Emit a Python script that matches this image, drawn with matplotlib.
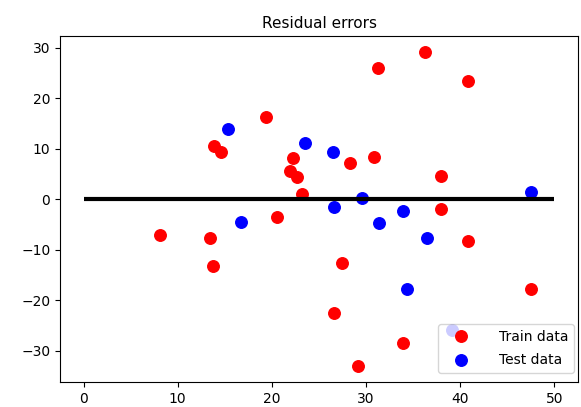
import numpy as np
import matplotlib
matplotlib.use('Agg')
import matplotlib.pyplot as plt

# Residuals
train_pred = [8.1, 13.4, 13.7, 13.8, 14.6, 19.4, 20.5, 22.2, 21.9, 22.7, 23.2,
              31.3, 36.3, 40.8, 28.3, 30.8, 37.9, 38.0, 40.8, 27.4, 47.5, 26.6,
              33.9, 29.1]
train_resid = [-7.0, -7.6, -13.3, 10.6, 9.3, 16.2, -3.5, 8.1, 5.6, 4.4, 1.0,
               26.0, 29.2, 23.5, 7.2, 8.4, 4.6, -2.0, -8.3, -12.7, -17.7, -22.5,
               -28.4, -33.1]
test_pred = [15.3, 23.5, 16.7, 26.5, 29.6, 26.6, 33.9, 47.5, 31.4, 36.5, 34.3, 39.1]
test_resid = [14.0, 11.2, -4.5, 9.3, 0.3, -1.5, -2.3, 1.5, -4.8, -7.6, -17.7, -25.9]

fig = plt.figure(figsize=(5.81, 4.07), dpi=100)
ax = fig.add_axes([0.1033, 0.0614, 0.8916, 0.850])

ax.plot(train_pred, train_resid, 'o', color='#ff0000', markersize=8.3, label='Train data')
ax.plot(test_pred, test_resid, 'o', color='#0000ff', markersize=8.3, label='Test data')
ax.hlines(y=0, xmin=0, xmax=50, color='black', linewidth=3)

ax.set_xticks([0, 10, 20, 30, 40, 50])
ax.set_yticks([-30, -20, -10, 0, 10, 20, 30])
ax.tick_params(labelsize=10)
ax.set_title('Residual errors', fontsize=11)
ax.legend(loc='lower right', bbox_to_anchor=(0.992, 0.026), borderaxespad=0,
          fontsize=10, handlelength=2.6, handletextpad=1.4, labelspacing=0.7)

fig.savefig('out.png', dpi=100)
